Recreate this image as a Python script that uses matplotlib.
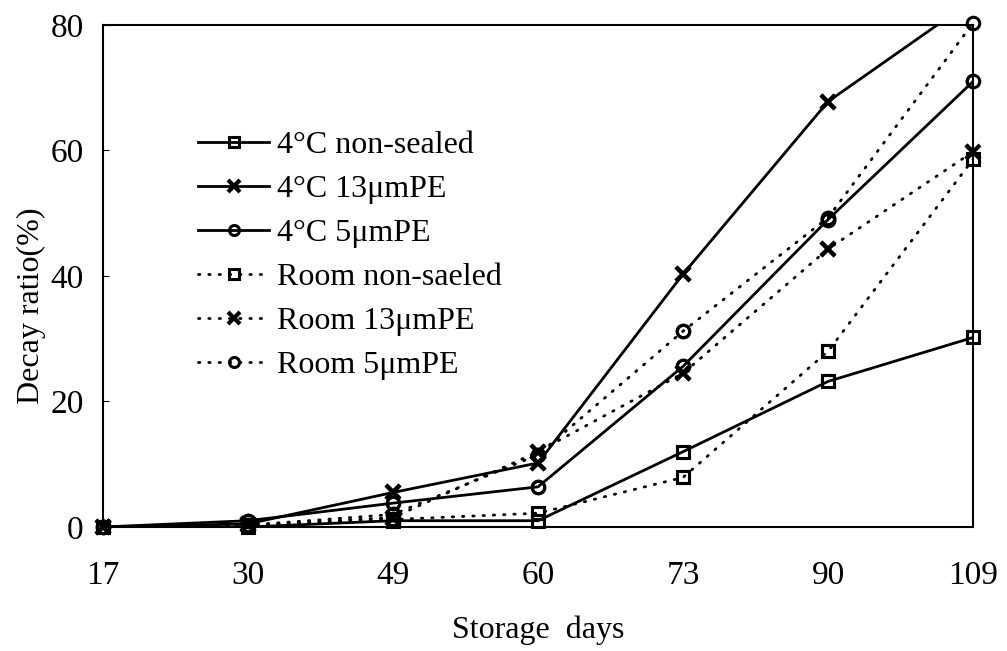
import matplotlib
matplotlib.use("Agg")
import matplotlib.pyplot as plt
import numpy as np

days = ["17", "30", "49", "60", "73", "90", "109"]
c4_nonsealed = [0.0, 0.0, 1.0, 1.0, 12.0, 23.2, 30.2]
c4_13pe = [0.0, 0.5, 5.5, 10.2, 40.3, 67.8, 84.0]
c4_5pe = [0.0, 1.0, 3.8, 6.4, 25.6, 49.0, 71.0]
room_nonsealed = [0.0, 0.0, 1.2, 2.2, 7.9, 28.0, 58.6]
room_13pe = [0.0, 0.3, 1.5, 12.0, 24.5, 44.3, 59.8]
room_5pe = [0.0, 0.3, 2.0, 11.5, 31.2, 49.3, 80.3]

labels = ["4°C non-sealed", "4°C 13μmPE", "4°C 5μmPE",
          "Room non-saeled", "Room 13μmPE", "Room 5μmPE"]
yticks = [0, 20, 40, 60, 80]

plt.rcParams['font.family'] = ['Liberation Serif', 'DejaVu Serif']

fig = plt.figure(figsize=(10.07, 6.51), dpi=100)
ax = fig.add_axes([0.1023, 0.1905, 0.8640, 0.7711])

x = np.arange(len(days))
dot = (0, (0.5, 3.2))
series = [
    (c4_nonsealed, '-', 's'),
    (c4_13pe, '-', 'x'),
    (c4_5pe, '-', 'o'),
    (room_nonsealed, dot, 's'),
    (room_13pe, dot, 'x'),
    (room_5pe, dot, 'o'),
]
ymax = 80
for (vals, ls, mk), lab in zip(series, labels):
    ms = 9 if mk != 'x' else 10
    mew = 2.2 if mk != 'x' else 3.0
    ax.plot(x, vals, color='black', linestyle=ls, linewidth=2.0,
            dash_capstyle='round', marker=mk, markersize=ms,
            markerfacecolor='none', markeredgecolor='black',
            markeredgewidth=mew, label=lab, markevery=[])
    v = np.array(vals)
    keep = v <= ymax + 1
    ax.plot(x[keep], v[keep], linestyle='none', marker=mk, markersize=ms,
            markerfacecolor='none', markeredgecolor='black',
            markeredgewidth=mew, clip_on=False)

ax.set_xlim(0, len(days) - 1)
ax.set_ylim(0, ymax)
ax.set_xticks(x)
ax.set_xticklabels(days)
ax.set_yticks(yticks)
ax.tick_params(axis='both', labelsize=24, direction='in', length=4)
ax.tick_params(axis='x', length=0, pad=24)
ax.tick_params(axis='y', pad=14)
for s in ax.spines.values():
    s.set_linewidth(1.5)

ax.set_xlabel("Storage  days", fontsize=23, labelpad=18)
ax.set_ylabel("Decay ratio(%)", fontsize=23)
ax.yaxis.set_label_coords(-0.066, 0.44)

handles, labs = ax.get_legend_handles_labels()
for h in handles:
    h.set_markevery(None)
leg = ax.legend(handles, labs, loc='upper left', bbox_to_anchor=(0.095, 0.815),
                frameon=False, fontsize=23, handlelength=2.2, labelspacing=0.46,
                handletextpad=0.25, borderaxespad=0, markerscale=0.8)

fig.savefig("out.png", dpi=100)
